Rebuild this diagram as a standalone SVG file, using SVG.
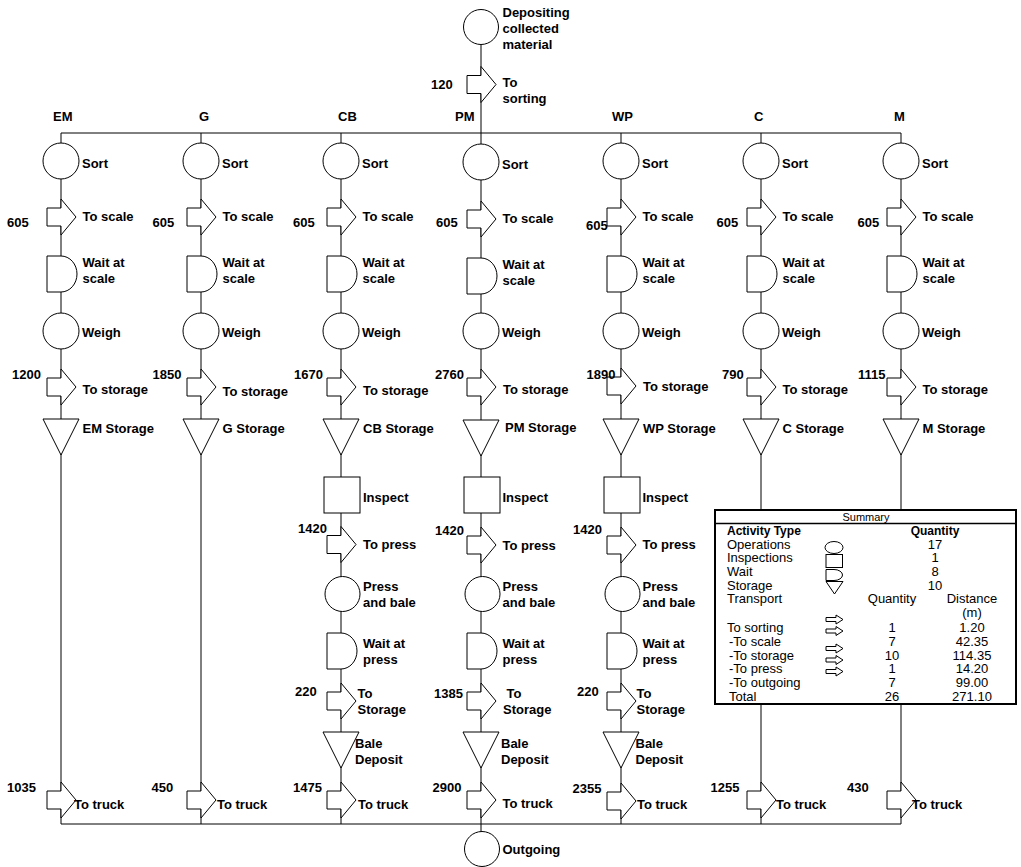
<svg xmlns="http://www.w3.org/2000/svg" xmlns:xlink="http://www.w3.org/1999/xlink" width="1021" height="867" viewBox="0 0 1021 867">
<style>
.s{fill:#fff;stroke:#000;stroke-width:1}
.c{fill:none;stroke:#000;stroke-width:1}
.l{font-family:"Liberation Sans",Arial,Helvetica,sans-serif;font-size:13px;font-weight:bold;fill:#000}
.t{font-family:"Liberation Sans",Arial,Helvetica,sans-serif;font-size:13px;fill:#000}
.tb{font-family:"Liberation Sans",Arial,Helvetica,sans-serif;font-size:12px;font-weight:bold;fill:#000}
.m{text-anchor:middle}
</style>
<defs>
<path id="tr" class="s" d="M-14,9 H0 V0 L15,18 L0,36 V27 H-14 Z"/>
<path id="wt" class="s" d="M-14,0 H0 A16,18 0 0 1 0,36 H-14 Z"/>
<path id="st" class="s" d="M-18,0 H18 L0,36 Z"/>
<path id="sa" class="s" d="M0,2.5 H10 V0 L17,4.5 L10,9 V6.5 H0 Z"/>
</defs>
<rect width="1021" height="867" fill="#fff"/>

<g id="connectors">
<path class="c" d="M481,45 V133"/>
<path class="c" d="M61,133 H901"/>
<path class="c" d="M61,133 V824 M201,133 V824 M341,133 V824 M481,133 V824 M621,133 V824 M761,133 V824 M901,133 V824"/>
<path class="c" d="M61,824 H901"/>
<path class="c" d="M481,824 V832"/>
</g>

<g id="n-deposit"><circle class="s" cx="481" cy="27" r="17.5"/><text class="l" x="502.5" y="17">Depositing</text><text class="l" x="502.5" y="33">collected</text><text class="l" x="502.5" y="49">material</text></g>
<g id="n-to-sorting"><use xlink:href="#tr" x="481" y="66.5"/><text class="l" x="431" y="89">120</text><text class="l" x="502.5" y="87">To</text><text class="l" x="502.5" y="103">sorting</text></g>

<g id="headers">
<text class="l" x="53" y="121">EM</text>
<text class="l" x="199" y="121">G</text>
<text class="l" x="338" y="121">CB</text>
<text class="l" x="455" y="121">PM</text>
<text class="l" x="612" y="121">WP</text>
<text class="l" x="754" y="121">C</text>
<text class="l" x="894" y="121">M</text>
</g>

<!-- EM -->
<g id="n-EM-sort"><circle class="s" cx="61" cy="161" r="18"/><text class="l" x="82" y="168">Sort</text></g>
<g id="n-EM-toscale"><use xlink:href="#tr" x="61" y="199"/><text class="l" x="7" y="226.5">605</text><text class="l" x="82.5" y="221">To scale</text></g>
<g id="n-EM-wait"><use xlink:href="#wt" x="61" y="256"/><text class="l" x="82.5" y="267">Wait at</text><text class="l" x="82.5" y="283">scale</text></g>
<g id="n-EM-weigh"><circle class="s" cx="61" cy="331" r="18"/><text class="l" x="82" y="336.5">Weigh</text></g>
<g id="n-EM-tostorage"><use xlink:href="#tr" x="61" y="369"/><text class="l" x="12" y="378.5">1200</text><text class="l" x="82.5" y="394">To storage</text></g>
<g id="n-EM-storage"><use xlink:href="#st" x="61" y="419"/><text class="l" x="82.5" y="433">EM Storage</text></g>
<g id="n-EM-totruck"><use xlink:href="#tr" x="61" y="782"/><text class="l" x="7" y="792">1035</text><text class="l" x="74" y="808.5">To truck</text></g>

<!-- G -->
<g id="n-G-sort"><circle class="s" cx="201" cy="161" r="18"/><text class="l" x="222" y="168">Sort</text></g>
<g id="n-G-toscale"><use xlink:href="#tr" x="201" y="199"/><text class="l" x="152.5" y="226.5">605</text><text class="l" x="222.5" y="221">To scale</text></g>
<g id="n-G-wait"><use xlink:href="#wt" x="201" y="256"/><text class="l" x="222.5" y="267">Wait at</text><text class="l" x="222.5" y="283">scale</text></g>
<g id="n-G-weigh"><circle class="s" cx="201" cy="331" r="18"/><text class="l" x="222" y="336.5">Weigh</text></g>
<g id="n-G-tostorage"><use xlink:href="#tr" x="201" y="369"/><text class="l" x="152.5" y="378.5">1850</text><text class="l" x="222.5" y="395.5">To storage</text></g>
<g id="n-G-storage"><use xlink:href="#st" x="201" y="419"/><text class="l" x="222.5" y="433">G Storage</text></g>
<g id="n-G-totruck"><use xlink:href="#tr" x="201" y="782"/><text class="l" x="151.5" y="792">450</text><text class="l" x="217" y="808.5">To truck</text></g>

<!-- CB -->
<g id="n-CB-sort"><circle class="s" cx="341" cy="161" r="18"/><text class="l" x="362" y="168">Sort</text></g>
<g id="n-CB-toscale"><use xlink:href="#tr" x="341" y="199"/><text class="l" x="293" y="226.5">605</text><text class="l" x="362.5" y="221">To scale</text></g>
<g id="n-CB-wait"><use xlink:href="#wt" x="341" y="256"/><text class="l" x="362.5" y="267">Wait at</text><text class="l" x="362.5" y="283">scale</text></g>
<g id="n-CB-weigh"><circle class="s" cx="341" cy="331" r="18"/><text class="l" x="362" y="336.5">Weigh</text></g>
<g id="n-CB-tostorage"><use xlink:href="#tr" x="341" y="369"/><text class="l" x="294" y="378.5">1670</text><text class="l" x="363" y="395">To storage</text></g>
<g id="n-CB-storage"><use xlink:href="#st" x="341" y="419"/><text class="l" x="363" y="433">CB Storage</text></g>
<g id="n-CB-inspect"><rect class="s" x="324" y="477" width="36" height="36"/><text class="l" x="363" y="502">Inspect</text></g>
<g id="n-CB-topress"><use xlink:href="#tr" x="341" y="526.5"/><text class="l" x="298" y="533">1420</text><text class="l" x="363" y="548.5">To press</text></g>
<g id="n-CB-press"><circle class="s" cx="342.5" cy="594" r="17.5"/><text class="l" x="363" y="591">Press</text><text class="l" x="363" y="607">and bale</text></g>
<g id="n-CB-waitpress"><use xlink:href="#wt" x="341" y="633"/><text class="l" x="363" y="647.5">Wait at</text><text class="l" x="363" y="663.5">press</text></g>
<g id="n-CB-tostorage2"><use xlink:href="#tr" x="341" y="683"/><text class="l" x="295" y="696">220</text><text class="l" x="357.5" y="697.5">To</text><text class="l" x="357.5" y="713.5">Storage</text></g>
<g id="n-CB-bale"><use xlink:href="#st" x="341" y="732"/><text class="l" x="355" y="748">Bale</text><text class="l" x="355" y="764">Deposit</text></g>
<g id="n-CB-totruck"><use xlink:href="#tr" x="341" y="782"/><text class="l" x="293" y="792">1475</text><text class="l" x="358" y="808.5">To truck</text></g>

<!-- PM -->
<g id="n-PM-sort"><circle class="s" cx="481" cy="162" r="18"/><text class="l" x="502" y="169">Sort</text></g>
<g id="n-PM-toscale"><use xlink:href="#tr" x="481" y="201"/><text class="l" x="436" y="227">605</text><text class="l" x="502.5" y="223">To scale</text></g>
<g id="n-PM-wait"><use xlink:href="#wt" x="481" y="258"/><text class="l" x="502.5" y="269">Wait at</text><text class="l" x="502.5" y="285">scale</text></g>
<g id="n-PM-weigh"><circle class="s" cx="481" cy="331" r="18"/><text class="l" x="502" y="336.5">Weigh</text></g>
<g id="n-PM-tostorage"><use xlink:href="#tr" x="481" y="369"/><text class="l" x="435" y="378.5">2760</text><text class="l" x="503" y="394">To storage</text></g>
<g id="n-PM-storage"><use xlink:href="#st" x="481" y="420"/><text class="l" x="505" y="431.5">PM Storage</text></g>
<g id="n-PM-inspect"><rect class="s" x="464" y="477" width="36" height="36"/><text class="l" x="502.5" y="502">Inspect</text></g>
<g id="n-PM-topress"><use xlink:href="#tr" x="481" y="527"/><text class="l" x="435" y="534.5">1420</text><text class="l" x="502.5" y="549.5">To press</text></g>
<g id="n-PM-press"><circle class="s" cx="482.5" cy="594" r="17.5"/><text class="l" x="502.5" y="591">Press</text><text class="l" x="502.5" y="607">and bale</text></g>
<g id="n-PM-waitpress"><use xlink:href="#wt" x="481" y="633"/><text class="l" x="502.5" y="647.5">Wait at</text><text class="l" x="502.5" y="663.5">press</text></g>
<g id="n-PM-tostorage2"><use xlink:href="#tr" x="481" y="683"/><text class="l" x="434" y="697.5">1385</text><text class="l" x="506.5" y="698">To</text><text class="l" x="503" y="714">Storage</text></g>
<g id="n-PM-bale"><use xlink:href="#st" x="481" y="732"/><text class="l" x="501" y="748">Bale</text><text class="l" x="501" y="764">Deposit</text></g>
<g id="n-PM-totruck"><use xlink:href="#tr" x="481" y="782"/><text class="l" x="432.5" y="792">2900</text><text class="l" x="502.5" y="807.5">To truck</text></g>

<!-- WP -->
<g id="n-WP-sort"><circle class="s" cx="621" cy="161" r="18"/><text class="l" x="642" y="168">Sort</text></g>
<g id="n-WP-toscale"><use xlink:href="#tr" x="621" y="199"/><text class="l" x="586" y="229.5">605</text><text class="l" x="642.5" y="221">To scale</text></g>
<g id="n-WP-wait"><use xlink:href="#wt" x="621" y="256"/><text class="l" x="642.5" y="267">Wait at</text><text class="l" x="642.5" y="283">scale</text></g>
<g id="n-WP-weigh"><circle class="s" cx="621" cy="331" r="18"/><text class="l" x="642" y="336.5">Weigh</text></g>
<g id="n-WP-tostorage"><use xlink:href="#tr" x="621" y="368"/><text class="l" x="586.5" y="378.5">1890</text><text class="l" x="643" y="391">To storage</text></g>
<g id="n-WP-storage"><use xlink:href="#st" x="621" y="419"/><text class="l" x="643" y="433">WP Storage</text></g>
<g id="n-WP-inspect"><rect class="s" x="604" y="477" width="36" height="36"/><text class="l" x="642.5" y="502">Inspect</text></g>
<g id="n-WP-topress"><use xlink:href="#tr" x="621" y="527"/><text class="l" x="573" y="534">1420</text><text class="l" x="642.5" y="549">To press</text></g>
<g id="n-WP-press"><circle class="s" cx="622.5" cy="594" r="17.5"/><text class="l" x="642.5" y="591">Press</text><text class="l" x="642.5" y="607">and bale</text></g>
<g id="n-WP-waitpress"><use xlink:href="#wt" x="621" y="633"/><text class="l" x="642.5" y="647.5">Wait at</text><text class="l" x="642.5" y="663.5">press</text></g>
<g id="n-WP-tostorage2"><use xlink:href="#tr" x="621" y="683"/><text class="l" x="577" y="696">220</text><text class="l" x="636.5" y="698">To</text><text class="l" x="636.5" y="714">Storage</text></g>
<g id="n-WP-bale"><use xlink:href="#st" x="621" y="732"/><text class="l" x="635.5" y="747.5">Bale</text><text class="l" x="635.5" y="763.5">Deposit</text></g>
<g id="n-WP-totruck"><use xlink:href="#tr" x="621" y="783"/><text class="l" x="572.5" y="792.5">2355</text><text class="l" x="637" y="808.5">To truck</text></g>

<!-- C -->
<g id="n-C-sort"><circle class="s" cx="761" cy="161" r="18"/><text class="l" x="782" y="168">Sort</text></g>
<g id="n-C-toscale"><use xlink:href="#tr" x="761" y="199"/><text class="l" x="716.5" y="226.5">605</text><text class="l" x="782.5" y="221">To scale</text></g>
<g id="n-C-wait"><use xlink:href="#wt" x="761" y="256"/><text class="l" x="782.5" y="267">Wait at</text><text class="l" x="782.5" y="283">scale</text></g>
<g id="n-C-weigh"><circle class="s" cx="761" cy="331" r="18"/><text class="l" x="782" y="336.5">Weigh</text></g>
<g id="n-C-tostorage"><use xlink:href="#tr" x="761" y="369"/><text class="l" x="722" y="378.5">790</text><text class="l" x="782.5" y="394">To storage</text></g>
<g id="n-C-storage"><use xlink:href="#st" x="761" y="419"/><text class="l" x="782.5" y="433">C Storage</text></g>
<g id="n-C-totruck"><use xlink:href="#tr" x="761" y="782"/><text class="l" x="710.5" y="792">1255</text><text class="l" x="776" y="808.5">To truck</text></g>

<!-- M -->
<g id="n-M-sort"><circle class="s" cx="901" cy="161" r="18"/><text class="l" x="922" y="168">Sort</text></g>
<g id="n-M-toscale"><use xlink:href="#tr" x="901" y="199"/><text class="l" x="857.5" y="226.5">605</text><text class="l" x="922.5" y="221">To scale</text></g>
<g id="n-M-wait"><use xlink:href="#wt" x="901" y="256"/><text class="l" x="922.5" y="267">Wait at</text><text class="l" x="922.5" y="283">scale</text></g>
<g id="n-M-weigh"><circle class="s" cx="901" cy="331" r="18"/><text class="l" x="922" y="336.5">Weigh</text></g>
<g id="n-M-tostorage"><use xlink:href="#tr" x="901" y="369"/><text class="l" x="858" y="378.5">1115</text><text class="l" x="922.5" y="394">To storage</text></g>
<g id="n-M-storage"><use xlink:href="#st" x="901" y="419"/><text class="l" x="922.5" y="433">M Storage</text></g>
<g id="n-M-totruck"><use xlink:href="#tr" x="901" y="782"/><text class="l" x="847" y="792">430</text><text class="l" x="912" y="808.5">To truck</text></g>

<g id="n-outgoing"><circle class="s" cx="482" cy="849" r="17.5"/><text class="l" x="502.5" y="854">Outgoing</text></g>

<g id="summary">
<rect x="715" y="510" width="301" height="194" fill="#fff" stroke="#000" stroke-width="2"/>
<line x1="715" y1="523.5" x2="1016" y2="523.5" stroke="#000" stroke-width="1.5"/>
<text class="t m" x="866" y="521" style="font-size:11px">Summary</text>
<text class="tb" x="727" y="534.5">Activity Type</text>
<text class="tb m" x="935" y="534.5">Quantity</text>
<text class="t" x="727" y="548.5">Operations</text>
<text class="t" x="727" y="562">Inspections</text>
<text class="t" x="727" y="576">Wait</text>
<text class="t" x="727" y="589.5">Storage</text>
<text class="t" x="727" y="603">Transport</text>
<text class="t" x="727" y="631.5">To sorting</text>
<text class="t" x="729" y="645.5">-To scale</text>
<text class="t" x="729" y="659.5">-To storage</text>
<text class="t" x="729" y="673">-To press</text>
<text class="t" x="729" y="687">-To outgoing</text>
<text class="t" x="729" y="700.5">Total</text>
<ellipse class="s" cx="834" cy="547.5" rx="9" ry="6"/>
<rect class="s" x="826" y="554.5" width="16.5" height="13"/>
<path class="s" d="M826,569.5 H834 A8.5,5.5 0 0 1 834,580.5 H826 Z"/>
<path class="s" d="M826,581.5 H843 L834.5,594 Z"/>
<use xlink:href="#sa" x="826" y="615"/>
<use xlink:href="#sa" x="826" y="626.5"/>
<use xlink:href="#sa" x="826" y="644"/>
<use xlink:href="#sa" x="826" y="655.5"/>
<use xlink:href="#sa" x="826" y="667"/>
<text class="t m" x="935" y="548.5">17</text>
<text class="t m" x="935" y="562">1</text>
<text class="t m" x="935" y="576">8</text>
<text class="t m" x="935" y="589.5">10</text>
<text class="t m" x="892" y="603">Quantity</text>
<text class="t m" x="972" y="603">Distance</text>
<text class="t m" x="972" y="617">(m)</text>
<text class="t m" x="892" y="631.5">1</text>
<text class="t m" x="892" y="645.5">7</text>
<text class="t m" x="892" y="659.5">10</text>
<text class="t m" x="892" y="673">1</text>
<text class="t m" x="892" y="687">7</text>
<text class="t m" x="892" y="700.5">26</text>
<text class="t m" x="972" y="631.5">1.20</text>
<text class="t m" x="972" y="645.5">42.35</text>
<text class="t m" x="972" y="659.5">114.35</text>
<text class="t m" x="972" y="673">14.20</text>
<text class="t m" x="972" y="687">99.00</text>
<text class="t m" x="972" y="700.5">271.10</text>
</g>
</svg>
